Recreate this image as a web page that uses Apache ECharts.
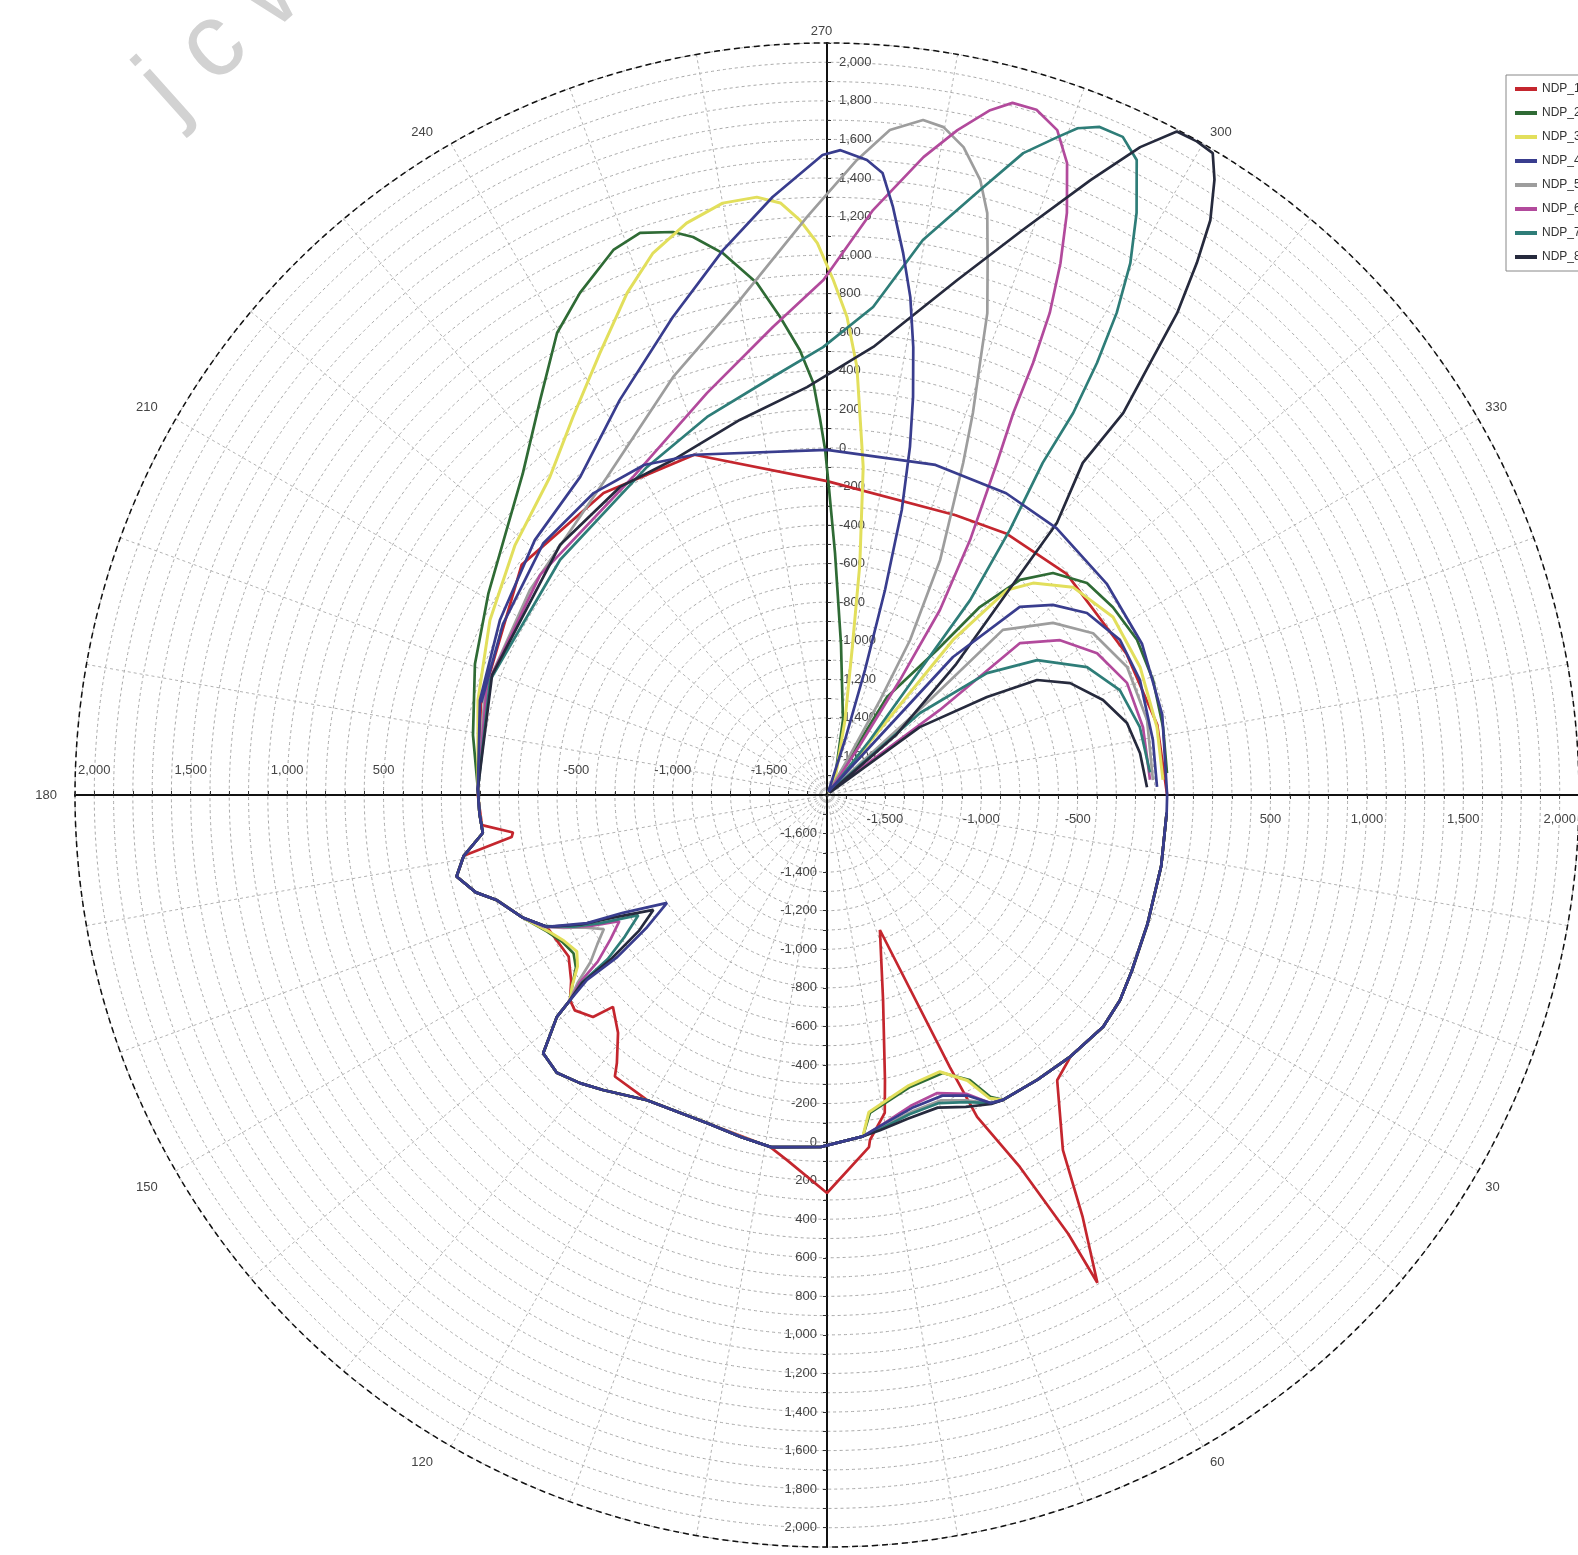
<!DOCTYPE html>
<html lang="en">
<head>
<meta charset="UTF-8">
<title>NDP polar</title>
<style>
  html, body { margin: 0; padding: 0; background: #fff; }
  #show { width: 1578px; height: 1555px; }
</style>
</head>
<body>
<div id="show"></div>
<script src="https://cdn.jsdelivr.net/npm/echarts@6/dist/echarts.min.js"></script>
<script>
// every point is [value, angle in degrees]
var names = ['NDP_1', 'NDP_2', 'NDP_3', 'NDP_4', 'NDP_5', 'NDP_6', 'NDP_7', 'NDP_8'];
var colors = ['#c4262e', '#2f6b35', '#e2df5c', '#393d8e', '#9d9d9d', '#b24a9c', '#2e7d78', '#262a3d'];

// shared parts of the rim
var rimSE = [[-36, 3], [-28, 12], [-8, 22], [25, 30], [55, 35], [70, 40], [53, 47], [36, 53.5], [26, 60]];
var rimS = [[-20, 84], [25, 91], [49, 99], [29, 104], [11, 110], [37, 120.5]];
var bowSW = [[121, 127.2], [168, 130.6], [210, 134.2], [190, 137.7], [13, 140.6], [-95, 141.4]];
var rimW = [[-100, 158], [-4, 162.3], [90, 164.5], [167, 167.6], [110, 170.5], [-4, 173.7], [5, 177], [11, 181]];
var navyArc = [[56, 195], [100, 207.8], [167, 221.6], [179, 232.3], [157, 241], [94, 248.7], [-10, 270],
  [2, 288.2], [20, 300.7], [25, 310.7], [18, 322.9], [12, 334.4], [-12, 346.5], [-36, 360]];

// dips at the bottom right
var dipGreen = [[-20, 61.6], [-146, 63.4], [-238, 67.4], [-226, 74.1], [-136, 82.3]];
var dipYellow = [[-15, 61.8], [-150, 63.8], [-250, 67.8], [-235, 74.3], [-140, 82.5]];
var dipNavy = [[10, 62], [-80, 65], [-130, 69], [-120, 74.5], [-60, 81]];
var dipGray = [[10, 62], [-60, 65.5], [-110, 69.5], [-100, 75], [-50, 81]];
var dipMagenta = [[10, 62], [-90, 65], [-152, 69.7], [-130, 75], [-60, 81]];
var dipTeal = [[10, 62], [-50, 65.5], [-100, 70], [-90, 75.5], [-45, 81]];
var dipBlack = [[15, 62], [-30, 66], [-80, 70.5], [-70, 76], [-40, 81]];

// notches at the lower left
var fanGreen = [[-150, 143.2], [-220, 145.5], [-250, 148], [-230, 151], [-185, 154]];
var fanYellow = [[-150, 143.2], [-230, 145.5], [-270, 148], [-240, 151], [-190, 154]];
var fanNavy = [[-229, 142.4], [-425, 142.3], [-642, 143.7], [-799, 146], [-578, 150], [-389, 151.9], [-194, 154.8]];
var fanGray = [[-180, 143], [-300, 144.8], [-380, 147], [-450, 149], [-360, 151.5], [-270, 153.2], [-180, 155]];
var fanMagenta = [[-190, 142.8], [-330, 144], [-450, 146.3], [-540, 148.7], [-400, 151], [-290, 153], [-185, 155]];
var fanTeal = [[-200, 142.6], [-380, 143.2], [-520, 145], [-640, 147.5], [-450, 150.5], [-320, 152.5], [-190, 155]];
var fanBlack = [[-200, 142.5], [-400, 142.8], [-600, 144.2], [-720, 146.5], [-520, 150.2], [-360, 152.2], [-194, 154.8]];

// upper lobes, from the left rim to the centre
var lobeGreen = [[62, 189.6], [148, 200.4], [243, 210.7], [496, 226.6], [731, 234], [975, 239.7], [1102, 243.8],
  [1236, 248.6], [1272, 251.6], [1227, 254.7], [1176, 256.5], [1062, 259.1], [880, 262.2], [691, 264.4],
  [512, 266.5], [338, 268.1], [160, 268.9], [-11, 269.7], [-218, 270.4], [-545, 271.9], [-1014, 275.3],
  [-1402, 282], [-1702, 295], [-1785, 298]];
var lobeYellow = [[76, 195.2], [169, 207.4], [273, 218.7], [387, 228.9], [562, 236.1], [777, 242.8], [1003, 248.3],
  [1152, 252.2], [1254, 256.2], [1317, 260], [1322, 263.3], [1280, 265.5], [1185, 267.3], [1063, 269],
  [871, 270.7], [681, 272.4], [425, 274], [168, 275], [-89, 276.3], [-592, 278.1], [-1037, 279.8],
  [-1400, 283.5], [-1712, 298], [-1785, 300]];
var lobeNavy = [[66, 195.3], [124, 208.2], [211, 221.1], [288, 232.2], [513, 242.3], [804, 252.1], [1077, 259.2],
  [1314, 264.8], [1519, 269.6], [1545, 271.2], [1500, 273.6], [1439, 275.1], [1269, 276.4], [1038, 278],
  [818, 279.5], [566, 280.9], [312, 282.2], [56, 283.4], [-272, 284.7], [-695, 285.8], [-1123, 286.9],
  [-1500, 288.1], [-1782, 292]];
var lobeGray = [[56, 197.1], [72, 214.6], [205, 235.3], [510, 249.8], [806, 260], [1199, 268], [1497, 272.7],
  [1664, 275.4], [1736, 278.1], [1716, 279.9], [1634, 281.9], [1486, 284], [1330, 285.4], [1082, 286.8],
  [834, 288.4], [577, 289.5], [321, 290.9], [61, 292.3], [-447, 295.7], [-888, 298.2], [-1236, 299.2],
  [-1561, 299.9], [-1782, 302]];
var lobeMagenta = [[53, 197.9], [75, 217.5], [132, 238.6], [376, 253.4], [643, 263.4], [871, 269.6], [1243, 274.5],
  [1546, 278.6], [1714, 281.1], [1851, 283.4], [1916, 285], [1916, 287], [1849, 289.1], [1706, 290.8],
  [1465, 292.4], [1212, 293.7], [954, 294.8], [682, 295.5], [404, 296], [134, 297.1], [-284, 299.3],
  [-676, 301.4], [-1094, 302.4], [-1489, 303.4], [-1782, 306]];
var lobeTeal = [[46, 198.8], [45, 221.4], [140, 241.2], [257, 252.4], [386, 262.6], [523, 269.5], [742, 275.4],
  [1121, 279.8], [1436, 284.2], [1681, 287], [1815, 289.3], [1894, 290.6], [1942, 292.2], [1942, 294.2],
  [1864, 296], [1620, 298], [1375, 299.7], [1117, 301], [842, 302], [557, 302.8], [254, 303], [-130, 304.6],
  [-546, 306.3], [-992, 306.7], [-1438, 308], [-1782, 310]];
var lobeBlack = [[45, 199.7], [97, 223.1], [125, 236.1], [112, 245.3], [197, 256.9], [318, 267.2], [536, 275.9],
  [955, 284.2], [1301, 289.1], [1669, 293.2], [1932, 295.8], [2090, 297.8], [2095, 299.5], [2084, 301],
  [1971, 302.2], [1783, 303.7], [1561, 304.8], [1289, 306], [997, 306.8], [706, 307.8], [374, 307.6],
  [47, 310.2], [-404, 311.7], [-846, 314.6], [-1326, 319], [-1782, 320]];

// right wings, from the centre back to the rim
var wingGreen = [[-1204, 301.5], [-856, 307.2], [-544, 309.1], [-301, 311.9], [-157, 315.5], [-60, 320.8],
  [-26, 326.7], [-2, 333.4], [-7, 340.6], [-22, 348.6], [-33, 356.3]];
var wingYellow = [[-764, 309.1], [-385, 311.3], [-267, 314.2], [-130, 319.8], [-53, 328.1], [-46, 337.8],
  [-53, 348.4], [-56, 357.4]];
var wingNavy = [[-831, 312.4], [-403, 315.7], [-269, 319.9], [-154, 325], [-81, 332.1], [-71, 339.8],
  [-86, 350.4], [-88, 358.6]];
var wingGray = [[-1074, 317.3], [-549, 316.8], [-327, 322.7], [-185, 328.7], [-108, 336.9], [-95, 346.8], [-108, 357.4]];
var wingMagenta = [[-1067, 323], [-526, 321.8], [-349, 326.4], [-218, 332.3], [-139, 339.5], [-124, 347.9], [-123, 357.3]];
var wingTeal = [[-1157, 318.6], [-757, 322.7], [-505, 327.3], [-297, 333.8], [-187, 340.3], [-140, 347.7], [-121, 356]];
var wingBlack = [[-1204, 323.8], [-827, 328.5], [-558, 331.3], [-412, 335.3], [-286, 341], [-200, 346.5],
  [-162, 352.4], [-140, 358.6]];

// the red one has its own spikes
var pathRed = [[-36, 3], [-28, 12], [-8, 22], [25, 30], [55, 35], [70, 40], [53, 47], [101, 51.1], [411, 56.4],
  [760, 58.8], [1092, 61], [798, 61.2], [373, 62.6], [42, 65], [-252, 65.7], [-1048, 68.6], [-698, 74.7],
  [-292, 78.5], [-125, 79.7], [3, 82.9], [39, 83.2], [264, 90], [104, 96.3], [49, 99.2], [11, 110], [37, 120.5],
  [28, 127], [-34, 128.1], [-158, 131.3], [-238, 135.3], [-127, 136.5], [-80, 139.5], [-95, 141.4],
  [-160, 144], [-220, 148], [-194, 154.8], [-100, 158], [-4, 162.3], [90, 164.5], [167, 167.6], [110, 170.5],
  [-150, 172.4], [-160, 173.2], [-4, 175], [11, 180], [56, 194.7], [183, 217], [148, 233.5], [94, 248.7], [-172, 270],
  [-203, 294.7], [-156, 304.4], [-109, 317.3], [-83, 334.8], [-49, 348], [-36, 360]];

var paths = [
  pathRed,
  [].concat(rimSE, dipGreen, rimS, bowSW, fanGreen, rimW, lobeGreen, wingGreen),
  [].concat(rimSE, dipYellow, rimS, bowSW, fanYellow, rimW, lobeYellow, wingYellow),
  [].concat(navyArc, rimSE, dipNavy, rimS, bowSW, fanNavy, rimW, lobeNavy, wingNavy),
  [].concat(rimSE, dipGray, rimS, bowSW, fanGray, rimW, lobeGray, wingGray),
  [].concat(rimSE, dipMagenta, rimS, bowSW, fanMagenta, rimW, lobeMagenta, wingMagenta),
  [].concat(rimSE, dipTeal, rimS, bowSW, fanTeal, rimW, lobeTeal, wingTeal),
  [].concat(rimSE, dipBlack, rimS, bowSW, fanBlack, rimW, lobeBlack, wingBlack)
];

var rMin = -1800, rMax = 2100;

function fmt(v) { return v.toLocaleString('en-US'); }
function hLabel(v) { return (v % 500 === 0 && v !== 0 && v > rMin && v < rMax) ? fmt(v) : ''; }
function vLabel(v) { return (v % 200 === 0 && v > rMin && v < rMax) ? fmt(v) : ''; }

var polarBox = { center: [827, 795], radius: 752 };
var labelFont = { color: '#444', fontSize: 13, fontFamily: 'Liberation Sans' };

function radius(idx, fmtFn, margin, align, vAlign, grid) {
  return {
    polarIndex: idx, type: 'value', min: rMin, max: rMax, interval: 100,
    axisLine: { lineStyle: { color: '#111', width: 2 } },
    axisTick: { show: true, length: -4, lineStyle: { color: '#333' } },
    axisLabel: Object.assign({ formatter: fmtFn, margin: margin, align: align, verticalAlign: vAlign }, labelFont),
    splitLine: { show: grid, lineStyle: { color: '#a9a9a9', type: [3, 3], width: 1 } }
  };
}

var chart = echarts.init(document.getElementById('show'));
chart.setOption({
  animation: false,
  backgroundColor: '#fff',
  polar: [polarBox, polarBox, polarBox, polarBox],
  angleAxis: [
    {
      polarIndex: 0, type: 'value', min: 0, max: 360, interval: 10, startAngle: 0, clockwise: true,
      axisLine: { lineStyle: { color: '#111', type: [6, 4], width: 1.5 } },
      axisTick: { show: false },
      axisLabel: Object.assign({ margin: 0, padding: [10, 18, 5, 7],
        formatter: function (v) { return (v % 30 === 0 && v < 360) ? String(v) : ''; } }, labelFont),
      splitLine: { lineStyle: { color: '#b3b3b3', type: [3, 3], width: 1 } }
    },
    { polarIndex: 1, type: 'value', min: 0, max: 360, startAngle: 90, show: false },
    { polarIndex: 2, type: 'value', min: 0, max: 360, startAngle: 180, show: false },
    { polarIndex: 3, type: 'value', min: 0, max: 360, startAngle: 270, show: false }
  ],
  radiusAxis: [
    radius(0, hLabel, -18, 'center', 'top', true),
    radius(1, vLabel, -12, 'left', 'middle', false),
    radius(2, hLabel, -18, 'center', 'bottom', false),
    radius(3, vLabel, -10, 'right', 'middle', false)
  ],
  legend: {
    orient: 'vertical', left: 1506, top: 75,
    itemWidth: 22, itemHeight: 14, itemGap: 12,
    padding: [8, 4, 8, 7],
    borderColor: '#888', borderWidth: 1, backgroundColor: '#fff',
    itemStyle: { opacity: 0 },
    lineStyle: { width: 4 },
    textStyle: { color: '#333', fontSize: 12, fontFamily: 'Liberation Sans' },
    data: names
  },
  graphic: [{
    type: 'text', x: 190, y: 138, rotation: 0.73, silent: true, z: 0,
    style: { text: 'j c w', font: '104px "Liberation Sans"', fill: '#d2d2d2', verticalAlign: 'bottom', align: 'left' }
  }],
  series: names.map(function (n, i) {
    return {
      name: n, type: 'line', coordinateSystem: 'polar', polarIndex: 0,
      symbol: 'none', smooth: false, z: i === 3 ? 4 : 2,
      lineStyle: { color: colors[i], width: i === 2 ? 3 : 2.7 },
      itemStyle: { color: colors[i] },
      data: paths[i]
    };
  })
});
</script>
</body>
</html>
